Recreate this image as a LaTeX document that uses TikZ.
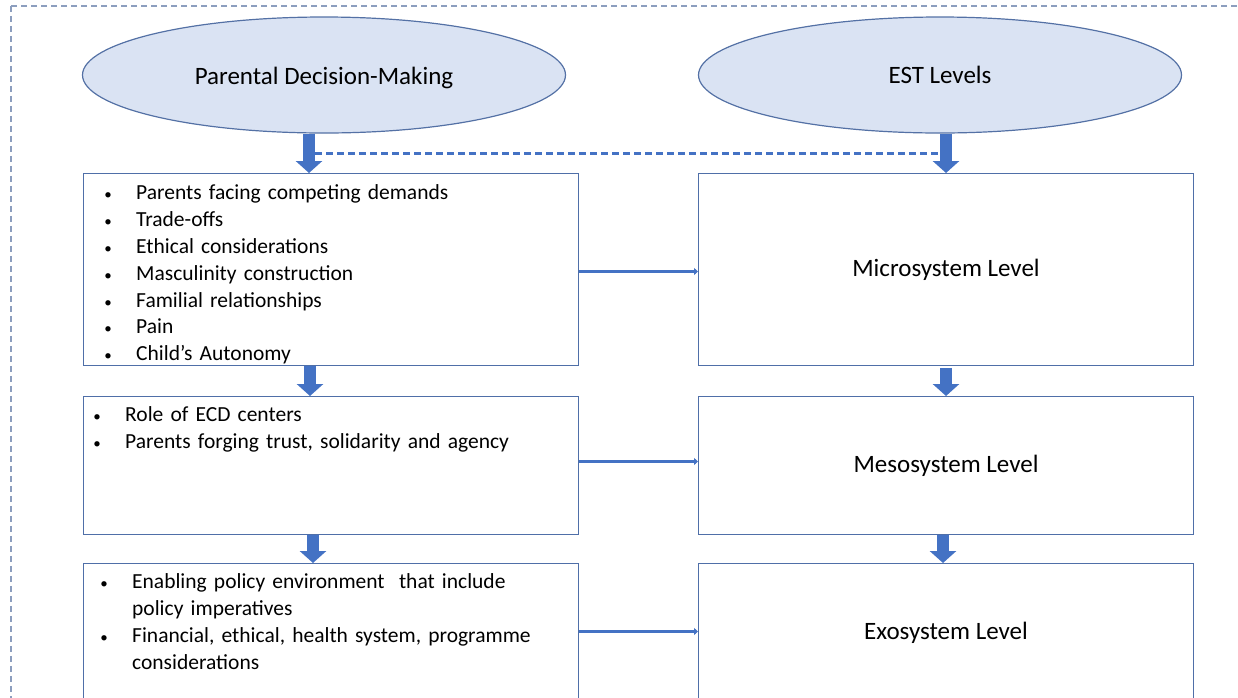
\documentclass[tikz,border=0pt]{standalone}
\usepackage{fontspec}
\setmainfont{Carlito}
\usetikzlibrary{arrows.meta,shapes.geometric,positioning}
\definecolor{estblue}{RGB}{68,114,196}
\definecolor{ellfill}{RGB}{218,227,243}
\definecolor{ellline}{RGB}{84,113,165}
\definecolor{boxline}{RGB}{79,111,168}
\definecolor{framegray}{RGB}{140,158,190}
\newcommand{\bul}[1]{\hangindent=28pt\hangafter=1\noindent\strut\makebox[28pt][l]{\makebox[0pt][c]{\fontsize{15}{15}\selectfont\textbullet}}#1\par}
\tikzset{
  level/.style={ellipse, draw=ellline, line width=1.2pt, fill=ellfill,
    minimum width=483pt, minimum height=116pt, inner sep=0pt,
    font=\fontsize{25}{30}\selectfont},
  panel/.style={draw=boxline, line width=1pt, minimum width=495pt,
    inner sep=0pt, anchor=north west, font=\fontsize{25}{30}\selectfont},
  bullets/.style={anchor=north west, inner sep=0pt, text width=470pt,
    align=left, font=\fontsize{21.5}{26.8}\selectfont},
  blockarrow/.style={draw=estblue, line width=12pt,
    -{Triangle[width=26pt,length=12pt]}},
  link/.style={draw=estblue, line width=3pt, -{Triangle[width=7pt,length=4pt]}},
  tie/.style={draw=estblue, line width=3pt, dash pattern=on 7pt off 4pt}
}
\begin{document}
\begin{tikzpicture}[x=1pt, y=-1pt]
  \useasboundingbox (0,0) rectangle (1238,697);
  \clip (0,0) rectangle (1238,697);
  % outer frame
  \draw[framegray, line width=1.3pt, dash pattern=on 6pt off 4pt]
    (11,6) rectangle (1260,720);
  % headings
  \node[level] (pdm) at (324,75) {\raisebox{-9pt}[0pt][0pt]{Parental Decision-Making}};
  \node[level] (est) at (940,75) {EST Levels};
  % left column
  \node[panel, minimum height=192pt] (p1) at (83,173) {};
  \node[panel, minimum height=138pt] (p2) at (83,396) {};
  \node[panel, minimum height=138pt] (p3) at (83,563) {};
  % right column
  \node[panel, minimum height=192pt] (m1) at (698,173) {Microsystem Level};
  \node[panel, minimum height=138pt] (m2) at (698,396) {Mesosystem Level};
  \node[panel, minimum height=138pt] (m3) at (698,563) {Exosystem Level};
  % bullet lists
  \node[bullets] (t1) at ([shift={(25,8)}]p1.north west) {%
    \bul{Parents facing competing demands}
    \bul{Trade-offs}
    \bul{Ethical considerations}
    \bul{Masculinity construction}
    \bul{Familial relationships}
    \bul{Pain}
    \bul{Child’s Autonomy}};
  \node[bullets] (t2) at ([shift={(14,7)}]p2.north west) {%
    \bul{Role of ECD centers}
    \bul{Parents forging trust, solidarity and agency}};
  \node[bullets] (t3) at ([shift={(21,7)}]p3.north west) {%
    \bul{Enabling policy environment\ \ that include\newline policy imperatives}
    \bul{Financial, ethical, health system, programme\newline considerations}};
  % vertical block arrows
  \draw[blockarrow] ([xshift=226pt]p1.north west |- pdm.south) -- ([xshift=226pt]p1.north west);
  \draw[blockarrow] ([xshift=248pt]m1.north west |- est.south) -- ([xshift=248pt]m1.north west);
  \coordinate (tieL) at (315,153);
  \coordinate (tieR) at (946,153);
  \draw[tie] (tieL) -- (tieR);
  \draw[blockarrow] ([xshift=227pt]p1.south west) -- ([xshift=227pt]p2.north west);
  \draw[blockarrow] ([xshift=248pt,yshift=-2pt]m1.south west) -- ([xshift=248pt]m2.north west);
  \draw[blockarrow] ([xshift=230pt]p2.south west) -- ([xshift=230pt]p3.north west);
  \draw[blockarrow] ([xshift=245pt]m2.south west) -- ([xshift=245pt]m3.north west);
  % horizontal links
  \draw[link] ([yshift=-2pt]p1.east) -- ([yshift=-2pt]m1.west);
  \draw[link] ([yshift=4pt]p2.east) -- ([yshift=4pt]m2.west);
  \draw[link] ([yshift=1pt]p3.east) -- ([yshift=1pt]m3.west);
\end{tikzpicture}
\end{document}
